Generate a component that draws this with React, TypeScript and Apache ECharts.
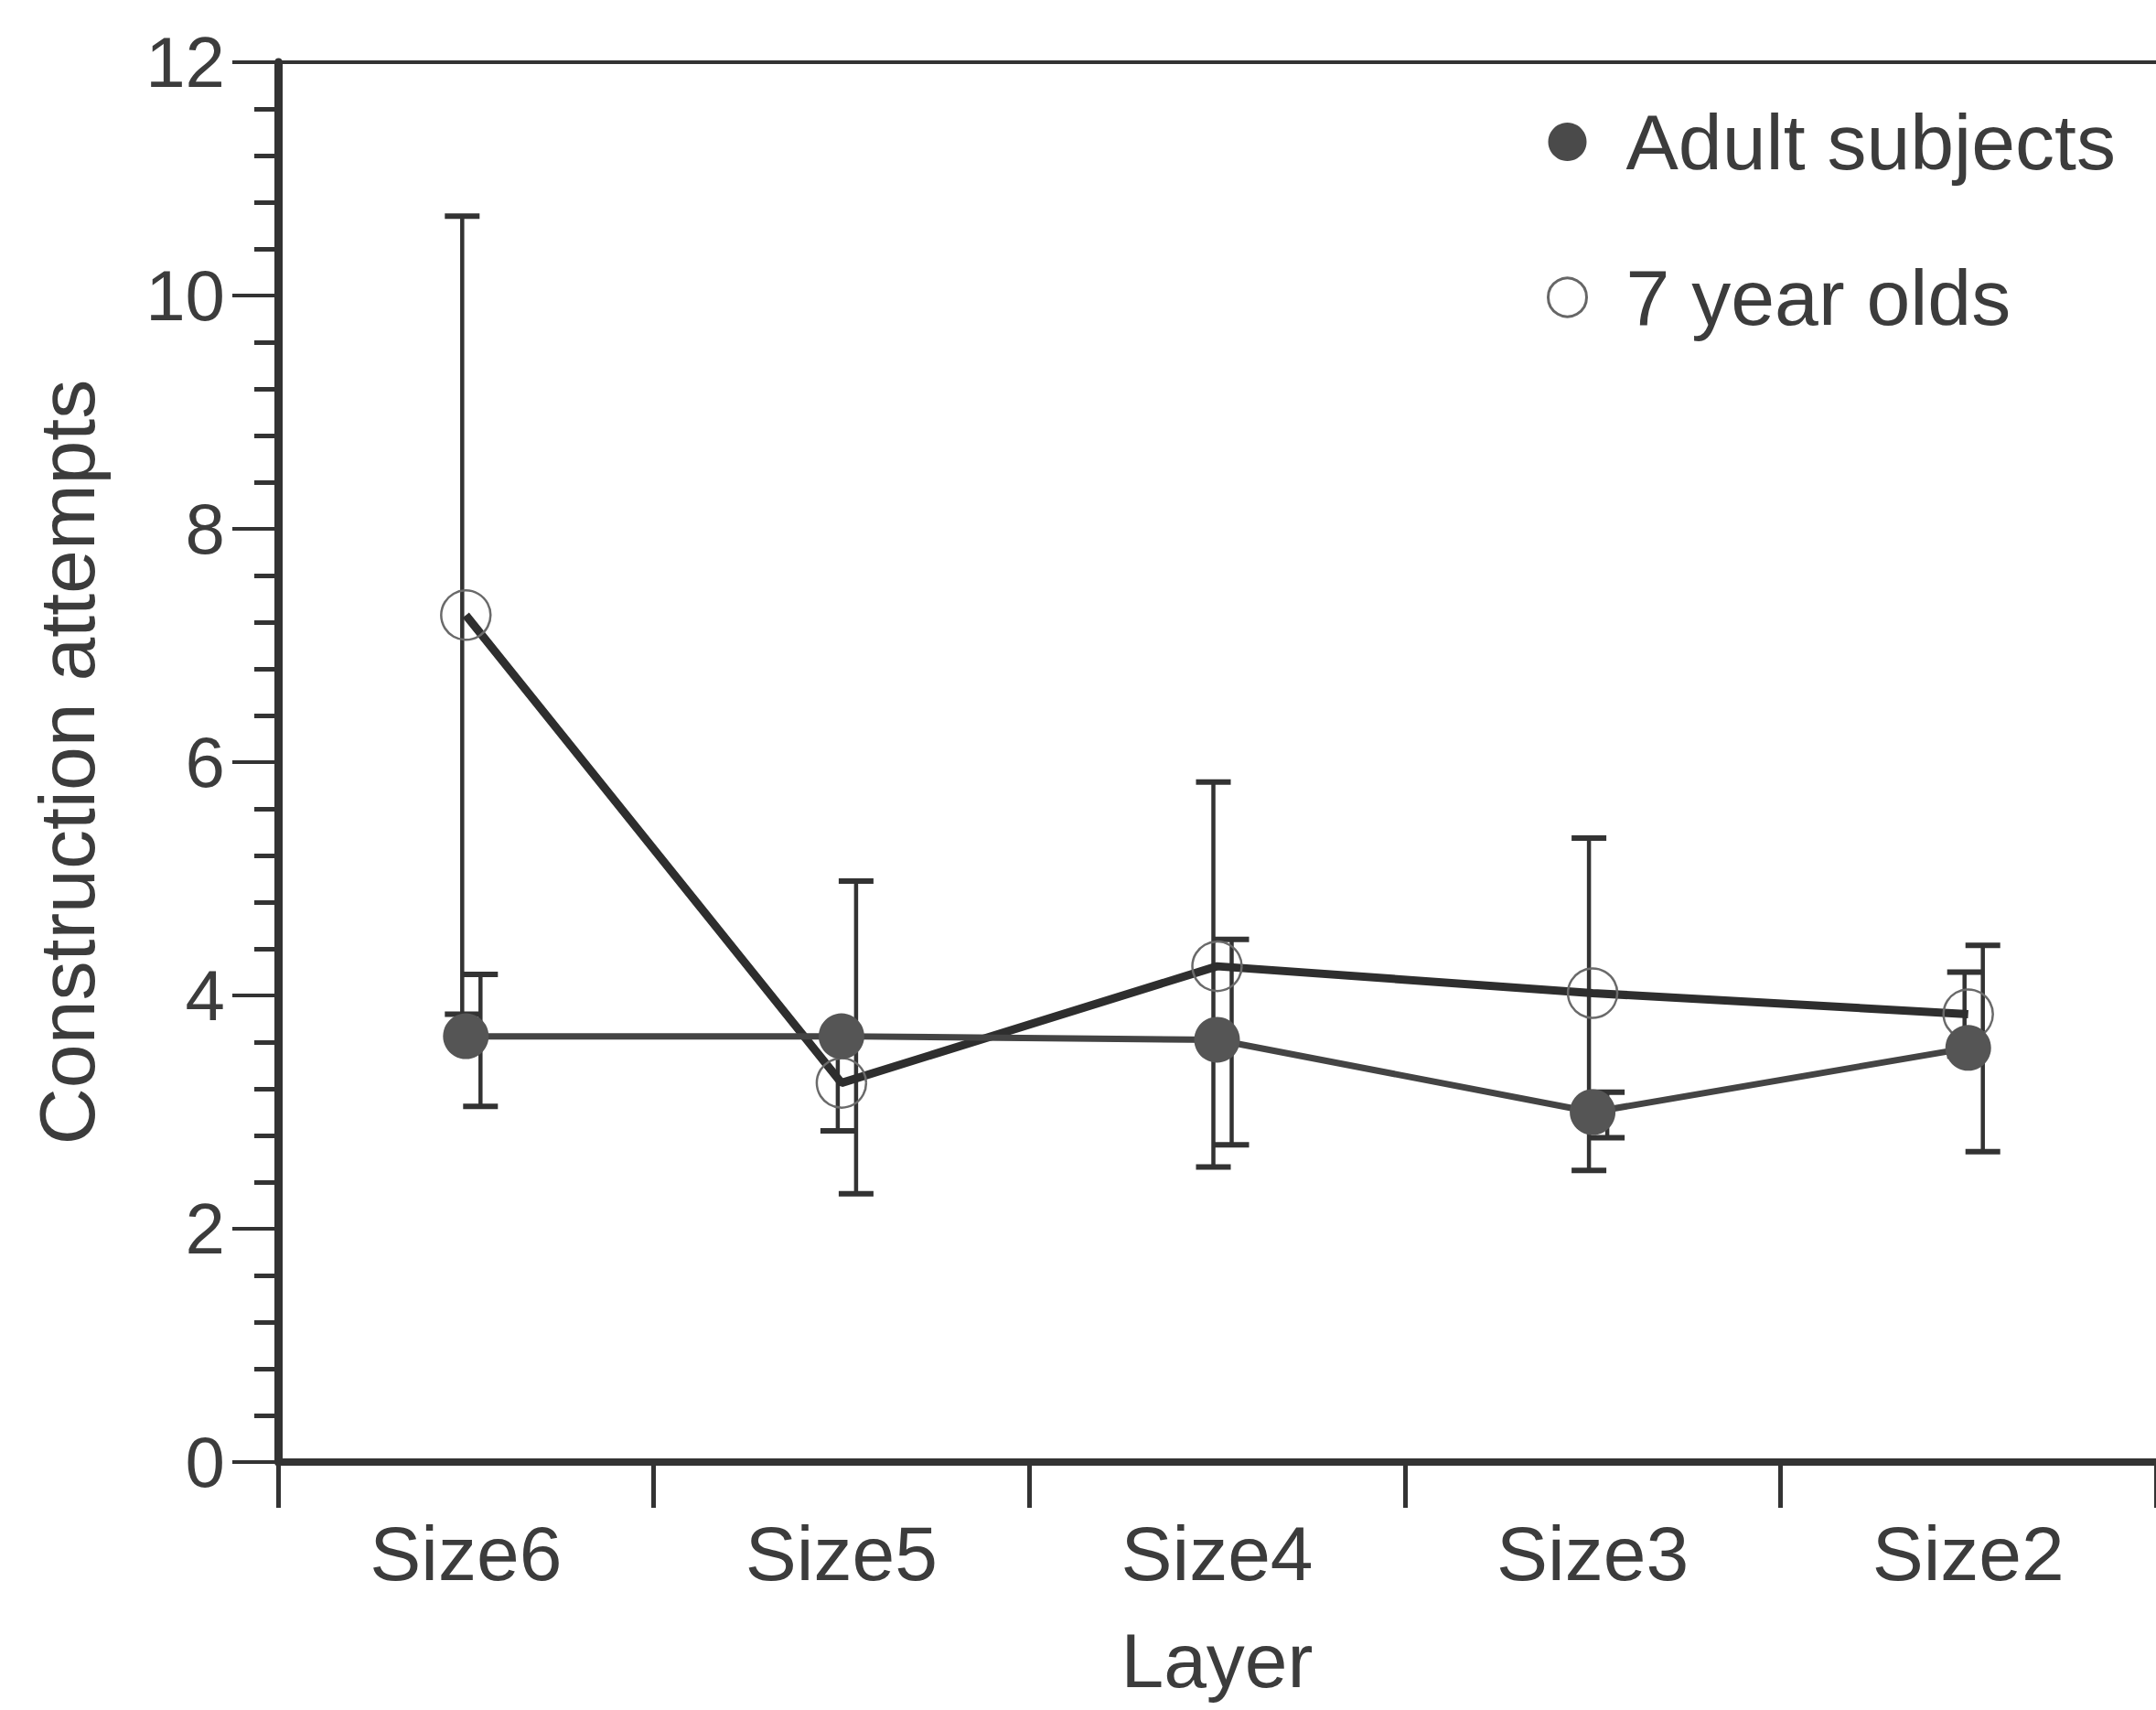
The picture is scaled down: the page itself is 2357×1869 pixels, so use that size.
import React, { useEffect, useRef } from "react";
import * as echarts from "echarts";

const categories = ["Size6", "Size5", "Size4", "Size3", "Size2"];
const adultMean = [3.65, 3.65, 3.62, 3.0, 3.55];
const adultLow = [3.05, 2.3, 2.72, 2.78, 2.66];
const adultHigh = [4.18, 4.98, 4.48, 3.17, 4.43];
const childMean = [7.26, 3.25, 4.25, 4.02, 3.84];
const childLow = [3.84, 2.84, 2.53, 2.5, 3.48];
const childHigh = [10.68, 3.65, 5.83, 5.35, 4.2];
const yTicks = [0, 2, 4, 6, 8, 10, 12];

const FONT = "Liberation Sans";
const TEXT = "#3c3c3c";
const INK = "#333333";

function errorRenderer(dx: number, lw: number) {
  return (params: any, api: any) => {
    const xi = api.value(0);
    const lo = api.coord([xi, api.value(1)]);
    const hi = api.coord([xi, api.value(2)]);
    const cx = lo[0] + dx;
    const cap = 19;
    return {
      type: "group",
      children: [
        { type: "line", shape: { x1: cx, y1: hi[1], x2: cx, y2: lo[1] }, style: { stroke: INK, lineWidth: lw } },
        { type: "line", shape: { x1: cx - cap, y1: hi[1], x2: cx + cap, y2: hi[1] }, style: { stroke: INK, lineWidth: 6 } },
        { type: "line", shape: { x1: cx - cap, y1: lo[1], x2: cx + cap, y2: lo[1] }, style: { stroke: INK, lineWidth: 6 } },
      ],
    };
  };
}

export default function App() {
  const ref = useRef<HTMLDivElement>(null);
  useEffect(() => {
    document.body.style.margin = "0";
    const chart = echarts.init(ref.current!, null, { renderer: "svg" });
    chart.setOption({
      animation: false,
      backgroundColor: "#ffffff",
      grid: { left: 304, top: 68, width: 2060, bottom: 271, containLabel: false },
      legend: {
        orient: "vertical",
        left: 1686,
        top: 105,
        itemWidth: 42,
        itemHeight: 42,
        itemGap: 80,
        selectedMode: false,
        textStyle: { fontFamily: FONT, fontSize: 86, color: TEXT, lineHeight: 90, padding: [0, 0, 0, 38] },
        data: [
          { name: "Adult subjects", icon: "circle", itemStyle: { color: "#4a4a4a", borderWidth: 0 } },
          { name: "7 year olds", icon: "circle", itemStyle: { color: "#ffffff", borderColor: "#666", borderWidth: 3 } },
        ],
      },
      xAxis: [
        {
          type: "category",
          data: categories,
          boundaryGap: true,
          position: "bottom",
          axisLine: { show: true, lineStyle: { color: INK, width: 8 } },
          axisTick: { show: true, length: 50, lineStyle: { color: INK, width: 5 } },
          axisLabel: { fontFamily: FONT, fontSize: 84, color: TEXT, margin: 58 },
          splitLine: { show: false },
          name: "Layer",
          nameLocation: "middle",
          nameGap: 175,
          nameTextStyle: { fontFamily: FONT, fontSize: 84, color: TEXT },
        },
        {
          type: "category",
          data: categories,
          position: "top",
          axisLine: { show: true, lineStyle: { color: INK, width: 4 } },
          axisTick: { show: false },
          axisLabel: { show: false },
        },
      ],
      yAxis: [
        {
          type: "value",
          min: 0,
          max: 12,
          interval: 2,
          axisLine: { show: true, lineStyle: { color: INK, width: 9 } },
          axisTick: { show: true, length: 50, lineStyle: { color: INK, width: 4 } },
          minorTick: { show: true, splitNumber: 5, length: 26, lineStyle: { color: INK, width: 5 } },
          splitLine: { show: false },
          axisLabel: {
            fontFamily: FONT,
            fontSize: 78,
            color: TEXT,
            margin: 58,
            formatter: (v: number) => (yTicks.includes(v) ? String(v) : ""),
          },
          name: "Construction attempts",
          nameLocation: "middle",
          nameGap: 188,
          nameTextStyle: { fontFamily: FONT, fontSize: 86, color: TEXT },
        },
      ],
      series: [
        {
          type: "custom",
          name: "adultErr",
          renderItem: errorRenderer(16, 4.5),
          data: categories.map((_, i) => [i, adultLow[i], adultHigh[i]]),
          encode: { x: 0, y: [1, 2] },
          z: 2,
        },
        {
          type: "custom",
          name: "childErr",
          renderItem: errorRenderer(-4, 4.5),
          data: categories.map((_, i) => [i, childLow[i], childHigh[i]]),
          encode: { x: 0, y: [1, 2] },
          z: 2,
        },
        {
          type: "line",
          name: "7 year olds",
          data: childMean,
          symbol: "circle",
          symbolSize: 54,
          showAllSymbol: true,
          lineStyle: { color: "#2e2e2e", width: 9 },
          itemStyle: { color: "rgba(255,255,255,0)", borderColor: "#6a6a6a", borderWidth: 2.5 },
          z: 3,
        },
        {
          type: "line",
          name: "Adult subjects",
          data: adultMean,
          symbol: "circle",
          symbolSize: 50,
          showAllSymbol: true,
          lineStyle: { color: "#444", width: 7 },
          itemStyle: { color: "#555555" },
          z: 4,
        },
      ],
    });
    return () => chart.dispose();
  }, []);
  return <div ref={ref} style={{ width: 2357, height: 1869 }} />;
}
